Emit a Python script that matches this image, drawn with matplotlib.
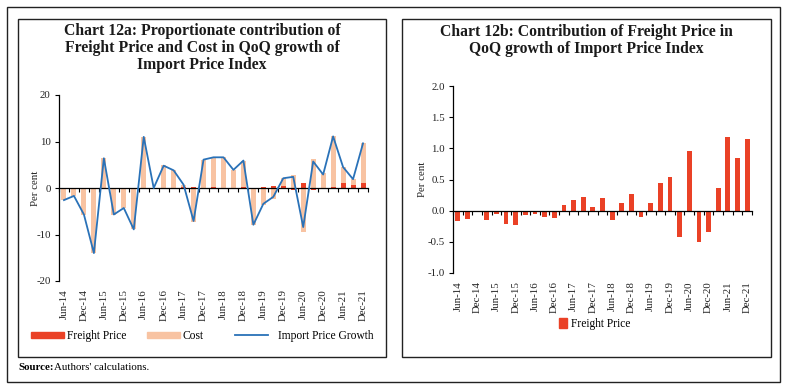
import numpy as np
import matplotlib.pyplot as plt
from matplotlib.patches import Rectangle
from matplotlib.lines import Line2D

plt.rcParams['font.family'] = 'Liberation Serif'
plt.rcParams['axes.unicode_minus'] = False

quarters = ['Jun-14', 'Sep-14', 'Dec-14', 'Mar-15', 'Jun-15', 'Sep-15', 'Dec-15', 'Mar-16',
            'Jun-16', 'Sep-16', 'Dec-16', 'Mar-17', 'Jun-17', 'Sep-17', 'Dec-17', 'Mar-18',
            'Jun-18', 'Sep-18', 'Dec-18', 'Mar-19', 'Jun-19', 'Sep-19', 'Dec-19', 'Mar-20',
            'Jun-20', 'Sep-20', 'Dec-20', 'Mar-21', 'Jun-21', 'Sep-21', 'Dec-21']

# chart 12a
freight_share = [-0.1, -0.1, 0.0, -0.1, -0.05, -0.2, -0.2, -0.05, -0.05, 0.0, -0.1, 0.1, 0.2,
                 0.3, 0.05, 0.2, -0.15, 0.1, 0.3, -0.1, 0.3, 0.5, 0.5, -0.5, 1.1, -0.5, -0.3,
                 0.2, 1.1, 0.7, 1.1]
cost_share = [-2.5, -1.6, -5.7, -13.9, 6.45, -5.5, -4.1, -8.85, 11.05, 0.0, 4.9, 3.7, 0.5,
              -7.4, 6.05, 6.4, 6.75, 3.8, 5.6, -7.8, -3.7, -2.4, 1.6, 2.9, -9.5, 6.2, 3.2,
              10.9, 3.4, 1.2, 8.5]
import_growth = [-2.6, -1.7, -5.7, -14.0, 6.4, -5.7, -4.3, -8.9, 11.0, 0.0, 4.8, 3.8, 0.7,
                 -7.1, 6.1, 6.6, 6.6, 3.9, 5.9, -7.9, -3.4, -1.9, 2.1, 2.4, -8.4, 5.7, 2.9,
                 11.1, 4.5, 1.9, 9.6]

# chart 12b
freight_contrib = [-0.16, -0.13, -0.01, -0.15, -0.05, -0.21, -0.23, -0.07, -0.05, -0.10, -0.12,
                   0.09, 0.17, 0.22, 0.06, 0.21, -0.15, 0.12, 0.27, -0.10, 0.12, 0.44, 0.54,
                   -0.43, 0.95, -0.51, -0.35, 0.36, 1.18, 0.84, 1.15]

RED = '#EA4126'
PEACH = '#F8C3A2'
BLUE = '#2A72B8'
W, H = 788, 389


def fx(px):
    return px / W


def fy(py):
    return 1 - py / H


def style_axis(ax, n, yticks, fmt):
    x = np.arange(n)
    ax.set_xlim(-0.5, n - 0.5)
    for s in ['top', 'right']:
        ax.spines[s].set_visible(False)
    ax.spines['bottom'].set_position(('data', 0))
    ax.spines['left'].set_linewidth(0.9)
    ax.spines['bottom'].set_linewidth(0.9)
    ax.set_xticks(np.arange(n + 1) - 0.5)
    ax.set_xticklabels([])
    ax.tick_params(axis='x', direction='out', length=3, width=0.8)
    ax.set_yticks(yticks)
    ax.set_yticklabels([fmt.format(v) for v in yticks], fontsize=7.8, color='#222222')
    ax.tick_params(axis='y', direction='out', length=3, width=0.8, pad=3)
    ax.set_ylim(yticks[0], yticks[-1])
    sec = ax.secondary_xaxis('bottom')
    sec.spines['bottom'].set_visible(False)
    sec.set_xticks(x[::2])
    sec.set_xticklabels(quarters[::2], rotation=90, fontsize=7.8, color='#222222')
    sec.tick_params(length=0, pad=6)


fig = plt.figure(figsize=(7.88, 3.89), dpi=100)

# frames
fig.patches.append(Rectangle((fx(7), fy(382)), fx(780) - fx(7), fy(7) - fy(382),
                             transform=fig.transFigure, fill=False, lw=1.0, ec='#222222'))
fig.patches.append(Rectangle((fx(18), fy(357)), fx(386) - fx(18), fy(19) - fy(357),
                             transform=fig.transFigure, fill=False, lw=1.0, ec='#222222'))
fig.patches.append(Rectangle((fx(402), fy(357)), fx(771) - fx(402), fy(19) - fy(357),
                             transform=fig.transFigure, fill=False, lw=1.0, ec='#222222'))

# left chart
ax1 = fig.add_axes([fx(59), fy(281), fx(368) - fx(59), fy(95) - fy(281)])
x = np.arange(len(quarters))
fr = np.array(freight_share)
co = np.array(cost_share)
cost_bottom = np.where(co >= 0, np.maximum(fr, 0), np.minimum(fr, 0))
ax1.bar(x, fr, width=0.5, color=RED, zorder=2)
ax1.bar(x, co, width=0.5, bottom=cost_bottom, color=PEACH, zorder=2)
ax1.plot(x, import_growth, color=BLUE, lw=1.3, zorder=3)
style_axis(ax1, len(quarters), [-20, -10, 0, 10, 20], '{:.0f}')
ax1.set_ylabel('Per cent', fontsize=7.8, color='#222222')
ax1.yaxis.set_label_coords(-0.062, 0.5)

# legend entries placed one by one, like the spacing in the original
leg_items = [
    (Rectangle((0, 0), 1, 1, color=RED), 'Freight Price', 21, 0.25),
    (Rectangle((0, 0), 1, 1, color=PEACH), 'Cost', 137, 0.25),
    (Line2D([0], [0], color=BLUE, lw=1.3), 'Import Price Growth', 225, 0.9),
]
for h, lab, px, tpad in leg_items:
    fig.legend([h], [lab], loc='center left', bbox_to_anchor=(fx(px), fy(336)),
               frameon=False, fontsize=8.3, handlelength=2.8, handleheight=0.45,
               handletextpad=tpad)

fig.text(fx(202), fy(48), 'Chart 12a: Proportionate contribution of\n'
         'Freight Price and Cost in QoQ growth of\nImport Price Index',
         ha='center', va='center', fontsize=11.3, fontweight='bold', linespacing=1.12,
         color='#1a1a1a')

# right chart
ax2 = fig.add_axes([fx(453), fy(273), fx(752) - fx(453), fy(86) - fy(273)])
ax2.bar(x, freight_contrib, width=0.5, color=RED, zorder=2, label='Freight Price')
style_axis(ax2, len(quarters), [-1.0, -0.5, 0.0, 0.5, 1.0, 1.5, 2.0], '{:.1f}')
ax2.set_ylabel('Per cent', fontsize=7.8, color='#222222')
ax2.yaxis.set_label_coords(-0.087, 0.5)
fig.legend([Rectangle((0, 0), 1, 1, color=RED)], ['Freight Price'], loc='center left',
           bbox_to_anchor=(fx(549), fy(324)), frameon=False, fontsize=8.3,
           handlelength=0.7, handleheight=0.9, handletextpad=0.3)

fig.text(fx(586), fy(40.5), 'Chart 12b: Contribution of Freight Price in\n'
         'QoQ growth of Import Price Index',
         ha='center', va='center', fontsize=11.3, fontweight='bold', linespacing=1.12,
         color='#1a1a1a')

# source note
fig.text(fx(18), fy(368), 'Source:', fontsize=7.8, fontweight='bold', va='center')
fig.text(fx(54), fy(368), "Authors' calculations.", fontsize=7.8, va='center')

fig.savefig('out.png', dpi=100)
